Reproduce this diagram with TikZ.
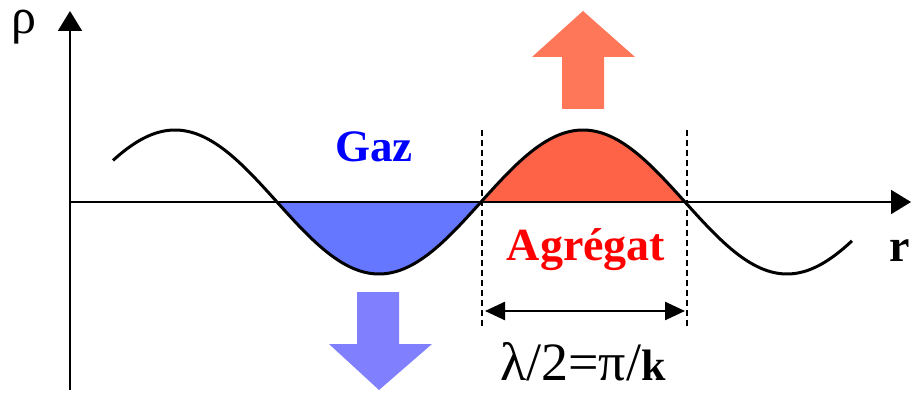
\documentclass[tikz,border=0pt]{standalone}
\usepackage{fontspec}
\setmainfont{Liberation Serif}
\usetikzlibrary{arrows.meta}
\definecolor{gazblue}{RGB}{102,119,255}
\definecolor{gazarrow}{RGB}{128,128,255}
\definecolor{aggred}{RGB}{255,99,71}
\definecolor{aggarrow}{RGB}{255,119,89}

\begin{document}
\begin{tikzpicture}[x=1pt, y=1pt,
    axis/.style={line width=2pt, -{Triangle[length=20pt,width=24pt]}},
    wave/.style={line width=3pt},
    guide/.style={line width=1.5pt, dash pattern=on 6pt off 4pt},
    bigfont/.style={font=\fontsize{#1}{#1}\selectfont}]
    \useasboundingbox (0,0) rectangle (911,397);

    % filled half waves (360/408 = 0.882353 deg per pt)
    \fill[gazblue] plot[domain=277:481, samples=60, smooth] (\x, {195+72*sin((\x-481)*0.882353)}) -- cycle;
    \fill[aggred] plot[domain=481:685, samples=60, smooth] (\x, {195+72*sin((\x-481)*0.882353)}) -- cycle;

    % axes
    \coordinate (origin) at (70,195);
    \coordinate (bottom) at (70,7);
    \coordinate (ytop) at (70,386);
    \coordinate (xend) at (911,195);
    \draw[line width=2pt] (origin) -- (bottom);
    \draw[axis] (origin) -- (ytop);
    \draw[axis] (origin) -- (xend);
    \node (rho) [bigfont=50, anchor=base, inner sep=0pt, text height=22pt, text depth=11pt] at (24,363) {ρ};
    \node (r) [bigfont=46, anchor=base east, inner sep=0pt] at (910,136) {\textbf{r}};

    % the wave
    \draw[wave] plot[domain=113:852, samples=160, smooth] (\x, {195+72*sin((\x-481)*0.882353)});

    % half wavelength
    \coordinate (gltop) at (482,267);
    \coordinate (glbot) at (482,70);
    \coordinate (grtop) at (687,267);
    \coordinate (grbot) at (687,70);
    \draw[guide] (gltop) -- (glbot);
    \draw[guide] (grtop) -- (grbot);
    \coordinate (dl) at (485,86);
    \coordinate (dr) at (685,86);
    \draw[line width=2.5pt, {Triangle[length=20pt,width=18pt]}-{Triangle[length=20pt,width=18pt]}] (dl) -- (dr);
    \node (lambda) [bigfont=54, anchor=base, inner sep=0pt] at (583,17) {λ/2=π/{\fontsize{44}{44}\selectfont\textbf{k}}};

    % labels
    \node (gaz) [bigfont=45, anchor=base, text=blue, inner sep=0pt] at (374,235) {\textbf{Gaz}};
    \node (agregat) [bigfont=46, anchor=base, text=red, inner sep=0pt] at (586,137) {\textbf{Agrégat}};

    % block arrows
    \fill[aggarrow] (562,288) -- (562,340) -- (532,340) -- (583,386) -- (635,340) -- (604,340) -- (604,288) -- cycle;
    \fill[gazarrow] (357,105) -- (357,53) -- (329,53) -- (379,7) -- (432,53) -- (399,53) -- (399,105) -- cycle;
\end{tikzpicture}
\end{document}
